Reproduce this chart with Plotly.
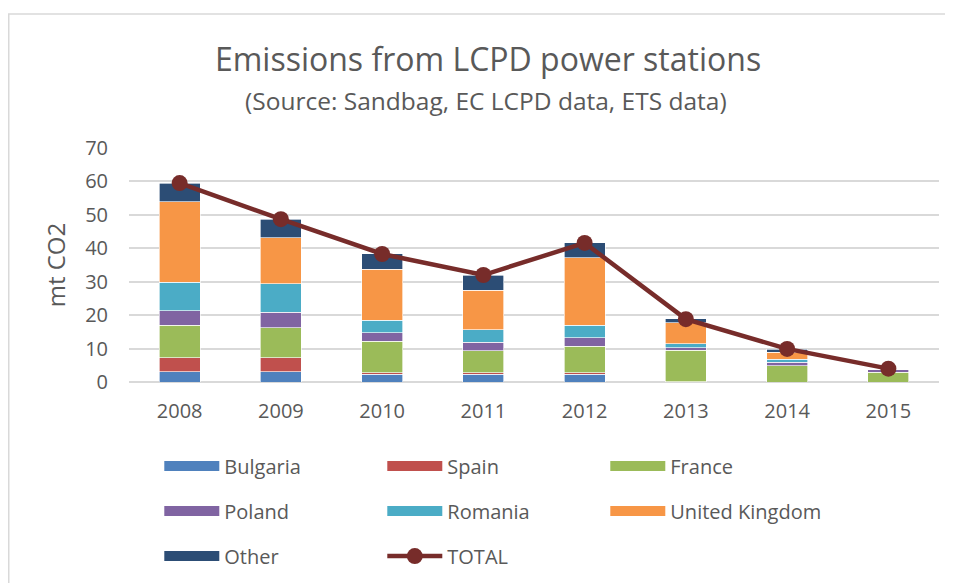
import plotly.graph_objects as go

years = ['2008', '2009', '2010', '2011', '2012', '2013', '2014', '2015']

bulgaria = [3.1, 3.1, 2.3, 2.3, 2.3, 0.1, 0.0, 0.0]
spain = [4.1, 4.1, 0.4, 0.4, 0.4, 0.0, 0.0, 0.0]
france = [9.8, 9.1, 9.5, 6.7, 8.0, 9.4, 4.9, 2.9]
poland = [4.3, 4.6, 2.5, 2.5, 2.5, 0.7, 1.0, 0.9]
romania = [8.5, 8.5, 3.8, 3.7, 3.8, 1.2, 0.9, 0.0]
uk = [24.1, 13.8, 15.3, 11.9, 20.2, 6.4, 2.1, 0.0]
other = [5.5, 5.5, 4.5, 4.5, 4.4, 1.1, 0.9, 0.2]
total = [59.5, 48.7, 38.3, 32.0, 41.6, 18.8, 9.9, 4.0]

series = [
    ('Bulgaria', bulgaria, '#4F81BD', 'legend'),
    ('Spain', spain, '#C0504D', 'legend'),
    ('France', france, '#9BBB59', 'legend'),
    ('Poland', poland, '#8064A2', 'legend2'),
    ('Romania', romania, '#4BACC6', 'legend2'),
    ('United Kingdom', uk, '#F79646', 'legend2'),
    ('Other', other, '#2C4D75', 'legend3'),
]
line_color = '#772C2A'
font = 'Open Sans'
grey = '#595959'

# page body has an 8px margin, so the figure is laid out 8px up/left of the target
L, R, T, B = 121, 22, 140, 209
W, H = 953, 583
pw, ph = W - L - R, H - T - B

fig = go.Figure()

for name, vals, col, leg in series:
    fig.add_trace(go.Bar(x=years, y=vals, name=name, marker_color=col,
                         marker_line=dict(color='rgba(255,255,255,0.8)', width=0.8),
                         legendgroup=name, showlegend=False, hoverinfo='name+y'))
    # legend-only entry so the swatch is a wide bar like in Excel
    fig.add_trace(go.Scatter(x=[None], y=[None], mode='lines', name=name,
                             line=dict(color=col, width=14), legendgroup=name,
                             legend=leg))

fig.add_trace(go.Scatter(x=years, y=total, name='TOTAL', mode='lines+markers',
                         line=dict(color=line_color, width=4.5),
                         marker=dict(color=line_color, size=16), legend='legend3'))

leg_common = dict(orientation='h', xanchor='left', yanchor='middle',
                  font=dict(family=font, size=20, color=grey),
                  itemwidth=55, entrywidth=153, bgcolor='rgba(0,0,0,0)',
                  traceorder='normal')

fig.update_layout(
    width=W, height=H,
    margin=dict(l=L, r=R, t=T, b=B),
    plot_bgcolor='white', paper_bgcolor='white',
    font=dict(family=font, color=grey),
    barmode='stack', bargap=0.595,
    title=dict(text='Emissions from LCPD power stations', x=0.5037, xanchor='center',
               y=0.9108, yanchor='middle', yref='container',
               font=dict(family=font, size=32, color=grey)),
    legend=dict(x=0.0374, y=-0.359, **leg_common),
    legend2=dict(x=0.0374, y=-0.551, **leg_common),
    legend3=dict(x=0.0374, y=-0.744, **leg_common),
    showlegend=True,
)

fig.add_annotation(text='(Source: Sandbag, EC LCPD data, ETS data)', xref='paper', yref='paper',
                   x=0.4407, y=1.2009, xanchor='center', yanchor='middle',
                   showarrow=False, font=dict(family=font, size=24.5, color=grey))

fig.update_xaxes(showgrid=False, showline=False, ticks='', ticklabelstandoff=15,
                 tickfont=dict(family=font, size=20, color=grey), automargin=False)
fig.update_yaxes(range=[0, 70], dtick=10, showgrid=True, gridcolor='#D9D9D9', gridwidth=1.5,
                 zeroline=True, zerolinecolor='#D9D9D9', zerolinewidth=1.5,
                 ticks='', ticklabelstandoff=20, automargin=False,
                 tickfont=dict(family=font, size=20, color=grey),
                 title=dict(text='mt CO2', standoff=12, font=dict(family=font, size=24, color=grey)))

# outer chart border like the Excel chart area
fig.add_shape(type='rect', xref='paper', yref='paper',
              x0=(0.75 - L) / pw, x1=1.1, y0=-1.0, y1=(ph + T - 6) / ph,
              line=dict(color='#D9D9D9', width=1.5), fillcolor='rgba(0,0,0,0)', layer='below')

fig.write_html('out.html')
